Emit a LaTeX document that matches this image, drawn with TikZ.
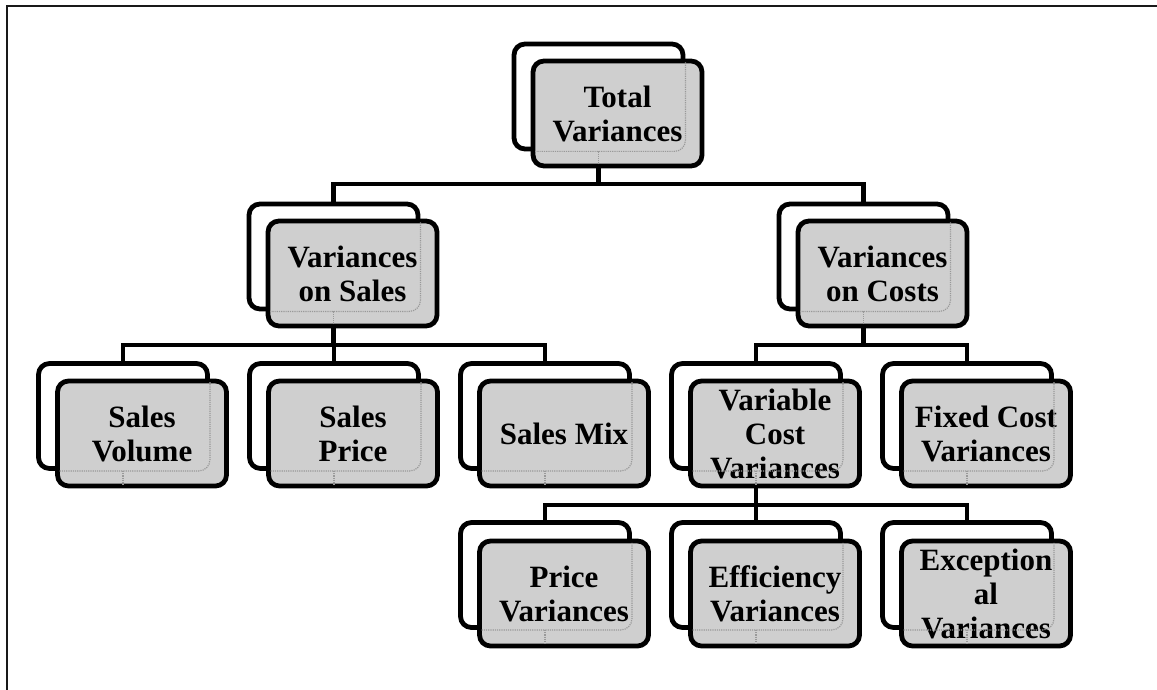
\documentclass[tikz,border=0pt]{standalone}
\usepackage{fontspec}
\setmainfont{Liberation Serif}
\usetikzlibrary{calc}
\begin{document}
\begin{tikzpicture}[x=1pt,y=-1pt,
  card/.style={draw=black, line width=4.8pt, rounded corners=11pt,
    minimum width=169pt, minimum height=105pt, inner sep=0pt},
  backcard/.style={card, fill=white},
  frontcard/.style={card, fill=black!19, align=center, text=black,
    font=\bfseries\fontsize{31}{34}\selectfont},
  link/.style={draw=black, line width=4.6pt},
  ghost/.style={draw=black!40, densely dotted, line width=1.2pt, rounded corners=11pt},
  frame/.style={draw=black!90, line width=2pt}]

\useasboundingbox (0,0) rectangle (1157,690);
\fill[white] (0,0) rectangle (1157,690);

% page frame (top and left edges)
\draw[frame] (1157,6) -- (7,6) -- (7,690);

% ---- back cards ----
\node[backcard] (totb) at (598.5, 96.5) {};
\node[backcard] (vosb) at (333.5,256.5) {};
\node[backcard] (vocb) at (863.5,256.5) {};
\node[backcard] (svb)  at (123,416) {};
\node[backcard] (spb)  at (334,416) {};
\node[backcard] (smb)  at (545,416) {};
\node[backcard] (vcb)  at (756,416) {};
\node[backcard] (fcb)  at (967,416) {};
\node[backcard] (pvb)  at (545,575) {};
\node[backcard] (evb)  at (756,575) {};
\node[backcard] (exb)  at (967,575) {};

% ---- bus levels ----
\coordinate (busA) at (0,184);
\coordinate (busB) at (0,345);
\coordinate (busC) at (0,505);

% ---- connectors ----
\draw[link] (totb.south) -- (totb.south |- busA);
\draw[link] (vosb.north) |- (vocb.north |- busA) -- (vocb.north);

\draw[link] (vosb.south) -- (vosb.south |- busB);
\draw[link] (svb.north) |- (smb.north |- busB) -- (smb.north);
\draw[link] (spb.north) -- (spb.north |- busB);

\draw[link] (vocb.south) -- (vocb.south |- busB);
\draw[link] (vcb.north) |- (fcb.north |- busB) -- (fcb.north);

\draw[link] (vcb.south) -- (vcb.south |- busC);
\draw[link] (pvb.north) |- (exb.north |- busC) -- (exb.north);
\draw[link] (evb.north) -- (evb.north |- busC);

% ---- front cards ----
\node[frontcard] (tot) at (617.5,113.5) {Total\\Variances};
\node[frontcard] (vos) at (352.5,273.5) {Variances\\on Sales};
\node[frontcard] (voc) at (882.5,273.5) {Variances\\on Costs};
\node[frontcard] (sv)  at (142,433.5) {Sales\\Volume};
\node[frontcard] (sp)  at (353,433.5) {Sales\\Price};
\node[frontcard] (sm)  at (564,433.5) {Sales Mix};
\node[frontcard] (vc)  at (775,433.5) {Variable\\Cost\\Variances};
\node[frontcard] (fc)  at (986,433.5) {Fixed Cost\\Variances};
\node[frontcard] (pv)  at (564,593.5) {Price\\Variances};
\node[frontcard] (ev)  at (775,593.5) {Efficiency\\Variances};
\node[frontcard] (ex)  at (986,593.5) {Exception\\al\\Variances};

% ---- back outlines and stems seen through the front cards ----
\foreach \f/\b in {tot/totb,vos/vosb,voc/vocb,sv/svb,sp/spb,sm/smb,vc/vcb,fc/fcb,pv/pvb,ev/evb,ex/exb}{
  \begin{scope}
    \clip ($(\f.south west)+(4,-4)$) rectangle ($(\f.north east)+(-4,4)$);
    \draw[ghost] (\b.south west) rectangle (\b.north east);
    \draw[ghost] (\b.south) -- (\b.south |- \f.south);
  \end{scope}
}
\end{tikzpicture}
\end{document}
